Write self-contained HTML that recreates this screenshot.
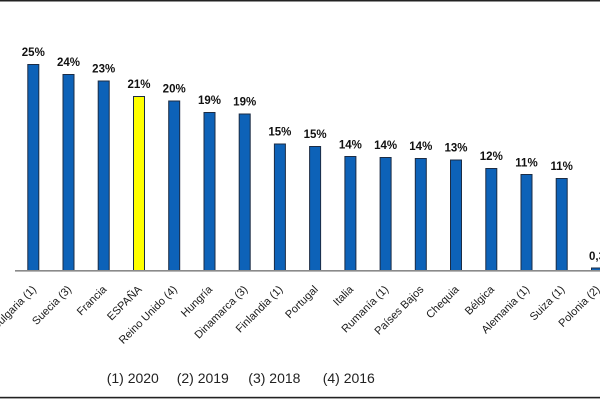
<!DOCTYPE html>
<html><head><meta charset="utf-8"><style>
html,body{margin:0;padding:0;background:#fff;}
svg{display:block;}
</style></head><body>
<svg width="600" height="400" viewBox="0 0 600 400" xmlns="http://www.w3.org/2000/svg" font-family="'Liberation Sans', sans-serif">
<rect x="0" y="0" width="600" height="400" fill="#fff"/>
<rect x="0" y="0" width="600" height="1.5" fill="#222"/>
<rect x="0" y="396.8" width="600" height="1.6" fill="#222"/>
<g stroke="#1c2c44" stroke-width="1">
<rect x="27.8" y="64.5" width="11" height="206" fill="#0d62b8"/>
<rect x="63.0" y="74.5" width="11" height="196" fill="#0d62b8"/>
<rect x="98.2" y="81" width="11" height="189.5" fill="#0d62b8"/>
<rect x="133.5" y="96.5" width="11" height="174" fill="#ffff00"/>
<rect x="168.7" y="101" width="11" height="169.5" fill="#0d62b8"/>
<rect x="204.0" y="112.5" width="11" height="158" fill="#0d62b8"/>
<rect x="239.2" y="114" width="11" height="156.5" fill="#0d62b8"/>
<rect x="274.4" y="144" width="11" height="126.5" fill="#0d62b8"/>
<rect x="309.6" y="146.5" width="11" height="124" fill="#0d62b8"/>
<rect x="344.9" y="156.5" width="11" height="114" fill="#0d62b8"/>
<rect x="380.1" y="157.5" width="11" height="113" fill="#0d62b8"/>
<rect x="415.3" y="158.5" width="11" height="112" fill="#0d62b8"/>
<rect x="450.5" y="160" width="11" height="110.5" fill="#0d62b8"/>
<rect x="485.8" y="168.5" width="11" height="102" fill="#0d62b8"/>
<rect x="521.0" y="174.5" width="11" height="96" fill="#0d62b8"/>
<rect x="556.2" y="178.5" width="11" height="92" fill="#0d62b8"/>
<rect x="591.5" y="268" width="11" height="2.5" fill="#0d62b8"/>
</g>
<line x1="15" y1="270.8" x2="600" y2="270.8" stroke="#8a8a8a" stroke-width="1.6"/>
<g font-size="11.5" font-weight="bold" fill="#111" text-anchor="middle">
<text x="33.3" y="56">25%</text>
<text x="68.5" y="66">24%</text>
<text x="103.7" y="72.7">23%</text>
<text x="139.0" y="88">21%</text>
<text x="174.2" y="92.7">20%</text>
<text x="209.5" y="104">19%</text>
<text x="244.7" y="105.7">19%</text>
<text x="279.9" y="135.7">15%</text>
<text x="315.1" y="138">15%</text>
<text x="350.4" y="148.3">14%</text>
<text x="385.6" y="149">14%</text>
<text x="420.8" y="150">14%</text>
<text x="456.0" y="151.7">13%</text>
<text x="491.3" y="160">12%</text>
<text x="526.5" y="166.3">11%</text>
<text x="561.7" y="170">11%</text>
<text x="589" y="260" text-anchor="start">0,3%</text>
</g>
<g font-size="11" fill="#1a1a1a" text-anchor="end">
<text transform="translate(36.8,290) rotate(-45)">Bulgaria (1)</text>
<text transform="translate(72.0,290) rotate(-45)">Suecia (3)</text>
<text transform="translate(107.2,290) rotate(-45)">Francia</text>
<text transform="translate(142.5,290) rotate(-45)">ESPAÑA</text>
<text transform="translate(177.7,290) rotate(-45)">Reino Unido (4)</text>
<text transform="translate(213.0,290) rotate(-45)">Hungría</text>
<text transform="translate(248.2,290) rotate(-45)">Dinamarca (3)</text>
<text transform="translate(283.4,290) rotate(-45)">Finlandia (1)</text>
<text transform="translate(318.6,290) rotate(-45)">Portugal</text>
<text transform="translate(353.9,290) rotate(-45)">Italia</text>
<text transform="translate(389.1,290) rotate(-45)">Rumanía (1)</text>
<text transform="translate(424.3,290) rotate(-45)">Países Bajos</text>
<text transform="translate(459.5,290) rotate(-45)">Chequia</text>
<text transform="translate(494.8,290) rotate(-45)">Bélgica</text>
<text transform="translate(530.0,290) rotate(-45)">Alemania (1)</text>
<text transform="translate(565.2,290) rotate(-45)">Suiza (1)</text>
<text transform="translate(600.5,290) rotate(-45)">Polonia (2)</text>
</g>
<g font-size="14" fill="#222">
<text x="106.7" y="383">(1) 2020</text>
<text x="176.7" y="383">(2) 2019</text>
<text x="248.3" y="383">(3) 2018</text>
<text x="322.7" y="383">(4) 2016</text>
</g>
</svg>
</body></html>
